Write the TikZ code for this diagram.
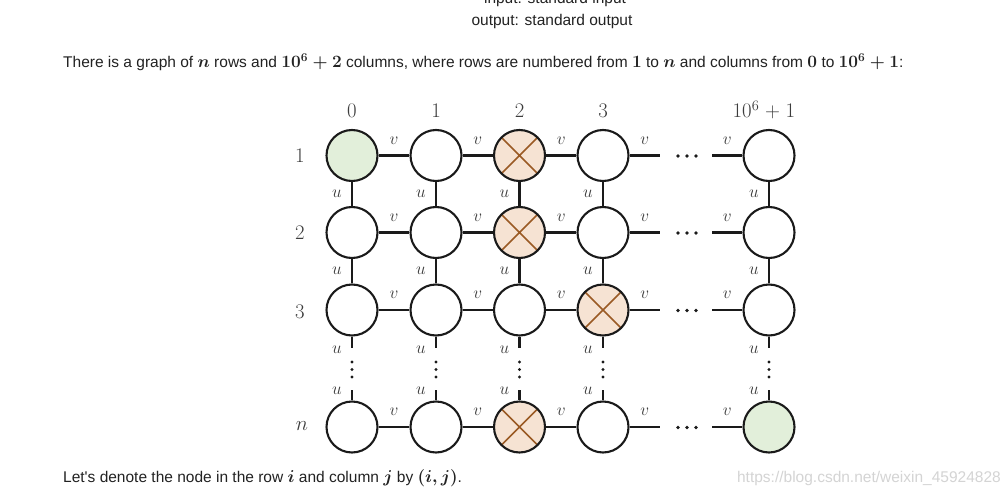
\documentclass[tikz,border=0pt]{standalone}
\usepackage[no-math]{fontspec}
\setmainfont{Liberation Sans}
\usepackage{amsmath}
\definecolor{edgec}{HTML}{1A1A1A}
\definecolor{labc}{HTML}{3C3C3C}
\definecolor{greenf}{HTML}{E2EFDA}
\definecolor{orangef}{HTML}{F6E3D3}
\definecolor{crossc}{HTML}{9A5A24}
\definecolor{txtc}{HTML}{222222}
\definecolor{wmc}{HTML}{D4D4D4}
\newcommand{\mm}[1]{{\fontsize{18.6}{18}\selectfont\boldmath$#1$}}
\begin{document}
\begin{tikzpicture}[x=1pt,y=-1pt,
  vtx/.style={circle,draw=edgec,line width=2.1pt,minimum size=51pt,inner sep=0pt,fill=white},
  startv/.style={vtx,fill=greenf},
  blocked/.style={vtx,fill=orangef,path picture={\draw[crossc,line width=1.6pt]
     (path picture bounding box.north west)--(path picture bounding box.south east)
     (path picture bounding box.north east)--(path picture bounding box.south west);}},
  link/.style={draw=edgec,line width=2.1pt},
  hl/.style={text=labc,font=\fontsize{17}{17}\selectfont,yshift=15pt,inner sep=0pt},
  vl/.style={text=labc,font=\fontsize{17}{17}\selectfont,xshift=-15pt,inner sep=0pt},
  idx/.style={text=labc,font=\fontsize{19.5}{20}\selectfont,inner sep=0pt},
  dotc/.style={fill=edgec,draw=none},
  body/.style={text=txtc,font=\fontsize{15.5}{18}\selectfont,inner sep=0pt,anchor=base west},
]
\useasboundingbox (0,0) rectangle (1008,500);
\clip (0,0) rectangle (1008,500);
\fill[white] (0,0) rectangle (1008,500);

% page text
\node[body,anchor=base] (inp) at (555,4) {input: standard input};
\node[body,anchor=base] (outp) at (552,26) {output: standard output};
\node[body] (intro) at (63,68) {There is a graph of \mm{n} rows and \mm{10^6+2} columns, where rows are numbered from \mm{1} to \mm{n} and columns from \mm{0} to \mm{10^6+1}:};
\node[body] (denote) at (63,482) {Let\textquotesingle s denote the node in the row \mm{i} and column \mm{j} by \mm{(i,j)}.};
\node[body,anchor=base east,text=wmc] (wm) at (1001,482) {https://blog.csdn.net/weixin\_45924828};

% column and row indices
\node[idx] (h0) at (352,111) {$0$};
\node[idx] (h1) at (436,111) {$1$};
\node[idx] (h2) at (519.5,111) {$2$};
\node[idx] (h3) at (603,111) {$3$};
\node[idx] (hL) at (764,110) {$10^6\;{+}\;1$};
\node[idx] (r1) at (300,156) {$1$};
\node[idx] (r2) at (300,233) {$2$};
\node[idx] (r3) at (300,312) {$3$};
\node[idx] (rn) at (302,426) {$n$};

% vertices
\node[startv]  (a0) at (352,155.5) {};
\node[vtx]     (a1) at (436,155.5) {};
\node[blocked] (a2) at (519.5,155.5) {};
\node[vtx]     (a3) at (603,155.5) {};
\node[vtx]     (aL) at (769,155.5) {};

\node[vtx]     (b0) at (352,232.5) {};
\node[vtx]     (b1) at (436,232.5) {};
\node[blocked] (b2) at (519.5,232.5) {};
\node[vtx]     (b3) at (603,232.5) {};
\node[vtx]     (bL) at (769,232.5) {};

\node[vtx]     (c0) at (352,310) {};
\node[vtx]     (c1) at (436,310) {};
\node[vtx]     (c2) at (519.5,310) {};
\node[blocked] (c3) at (603,310) {};
\node[vtx]     (cL) at (769,310) {};

\node[vtx]     (d0) at (352,427) {};
\node[vtx]     (d1) at (436,427) {};
\node[blocked] (d2) at (519.5,427) {};
\node[vtx]     (d3) at (603,427) {};
\node[startv]  (dL) at (769,427) {};

% horizontal edges
\foreach \r/\y in {a/155.5,b/232.5,c/310,d/427}{
  \coordinate (\r E) at (660,\y);
  \coordinate (\r F) at (712,\y);
  \draw[link] (\r0) -- node[midway,hl]{$v$} (\r1);
  \draw[link] (\r1) -- node[midway,hl]{$v$} (\r2);
  \draw[link] (\r2) -- node[midway,hl]{$v$} (\r3);
  \draw[link] (\r3) -- node[midway,hl]{$v$} (\r E);
  \draw[link] (\r F) -- node[midway,hl]{$v$} (\r L);
  \foreach \dx in {678,687,696} \fill[dotc] (\dx,\y+0.5) circle (1.8);
}

% vertical edges
\foreach \c/\x in {0/352,1/436,2/519.5,3/603,L/769}{
  \draw[link] (a\c) -- node[midway,vl]{$u$} (b\c);
  \draw[link] (b\c) -- node[midway,vl]{$u$} (c\c);
  \coordinate (s\c) at (\x,348);
  \coordinate (t\c) at (\x,390);
  \draw[link] (c\c) -- (s\c) node[vl,yshift=-2pt]{$u$};
  \draw[link] (t\c) node[vl,yshift=-1pt]{$u$} -- (d\c);
  \foreach \dy in {362,369.5,377} \fill[dotc] (\x,\dy) circle (1.6);
}
\end{tikzpicture}
\end{document}
